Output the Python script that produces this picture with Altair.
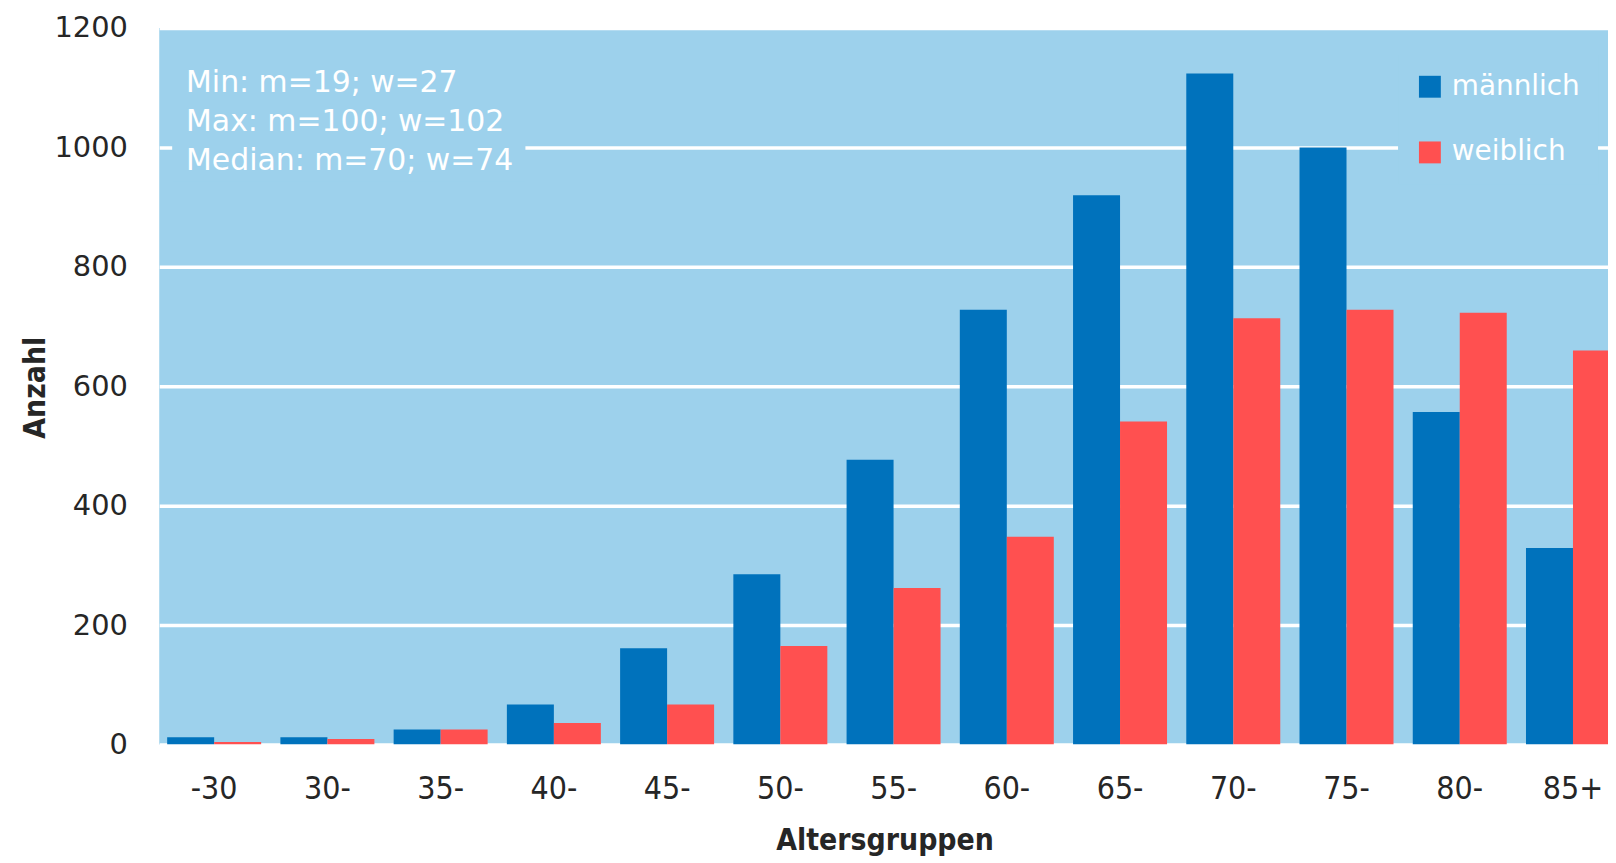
import altair as alt
import pandas as pd

# ---- data ----
groups = ["-30", "30-", "35-", "40-", "45-", "50-", "55-", "60-", "65-", "70-", "75-", "80-", "85+"]
maennlich = [12, 12, 25, 67, 161, 285, 477, 728, 920, 1124, 1000, 557, 329]
weiblich = [4, 9, 25, 36, 67, 165, 262, 348, 541, 714, 728, 723, 660]
series = ["männlich", "weiblich"]
series_colors = ["#0072BC", "#FF5050"]
y_ticks = [0, 200, 400, 600, 800, 1000, 1200]
stats_lines = ["Min: m=19; w=27", "Max: m=100; w=102", "Median: m=70; w=74"]

rows = []
for g, m, w in zip(groups, maennlich, weiblich):
    rows.append({"Altersgruppe": g, "Geschlecht": series[0], "Anzahl": m})
    rows.append({"Altersgruppe": g, "Geschlecht": series[1], "Anzahl": w})
df = pd.DataFrame(rows)

BG = "#9DD1EC"
TXT = "#262626"

bars = alt.Chart(df).mark_bar(clip=True).encode(
    x=alt.X(
        "Altersgruppe:N",
        sort=groups,
        scale=alt.Scale(range=[0, 1476], paddingInner=0.17, paddingOuter=0.07),
        axis=alt.Axis(
            title="Altersgruppen",
            domain=False,
            ticks=False,
            grid=False,
            labelAngle=0,
            labelPadding=29,
            labelFont="DejaVu Sans Condensed",
            labelFontSize=32,
            labelColor=TXT,
            titleFont="DejaVu Sans Condensed",
            titleFontSize=30,
            titleFontWeight="bold",
            titleColor=TXT,
            titleX=729,
            titleY=106,
            titleAlign="center",
            titleBaseline="alphabetic",
        ),
    ),
    xOffset=alt.XOffset("Geschlecht:N", sort=series),
    y=alt.Y(
        "Anzahl:Q",
        scale=alt.Scale(domain=[0, 1200], nice=False),
        axis=alt.Axis(
            values=y_ticks,
            format="d",
            title="Anzahl",
            grid=True,
            gridColor="white",
            gridWidth=3.5,
            domain=False,
            ticks=False,
            labelPadding=32,
            labelFont="DejaVu Sans",
            labelFontSize=29,
            labelColor=TXT,
            titleFont="DejaVu Sans Condensed",
            titleFontSize=30,
            titleFontWeight="bold",
            titleColor=TXT,
            titleAngle=270,
            titleX=-115,
            titleY=361,
            titleAlign="center",
            titleBaseline="alphabetic",
        ),
    ),
    color=alt.Color(
        "Geschlecht:N",
        scale=alt.Scale(domain=series, range=series_colors),
        legend=alt.Legend(
            title=None,
            orient="none",
            legendX=1245,
            legendY=27,
            fillColor=BG,
            padding=18,
            symbolType="square",
            symbolSize=484,
            symbolStrokeWidth=0,
            symbolOpacity=1,
            labelFont="DejaVu Sans",
            labelFontSize=28,
            labelColor="white",
            labelOffset=8,
            rowPadding=38,
        ),
    ),
)

one = pd.DataFrame({"k": [0]})

box = alt.Chart(one).mark_rect(color=BG).encode(
    x=alt.value(13), x2=alt.value(368), y=alt.value(29), y2=alt.value(154)
)

stats = alt.Chart(one).mark_text(
    align="left",
    baseline="alphabetic",
    font="DejaVu Sans",
    fontSize=30,
    color="white",
    lineHeight=39.5,
).encode(x=alt.value(27), y=alt.value(64), text=alt.value(stats_lines))

chart = (
    alt.layer(bars, box, stats)
    .properties(
        width=1456,
        height=720,
        padding={"left": 152, "top": 18, "right": 0, "bottom": 117},
        autosize=alt.AutoSizeParams(type="none"),
        background="white",
    )
    .configure_view(fill=BG, strokeWidth=0)
)

chart.save("out.html", embed_options={"renderer": "svg", "actions": False})
